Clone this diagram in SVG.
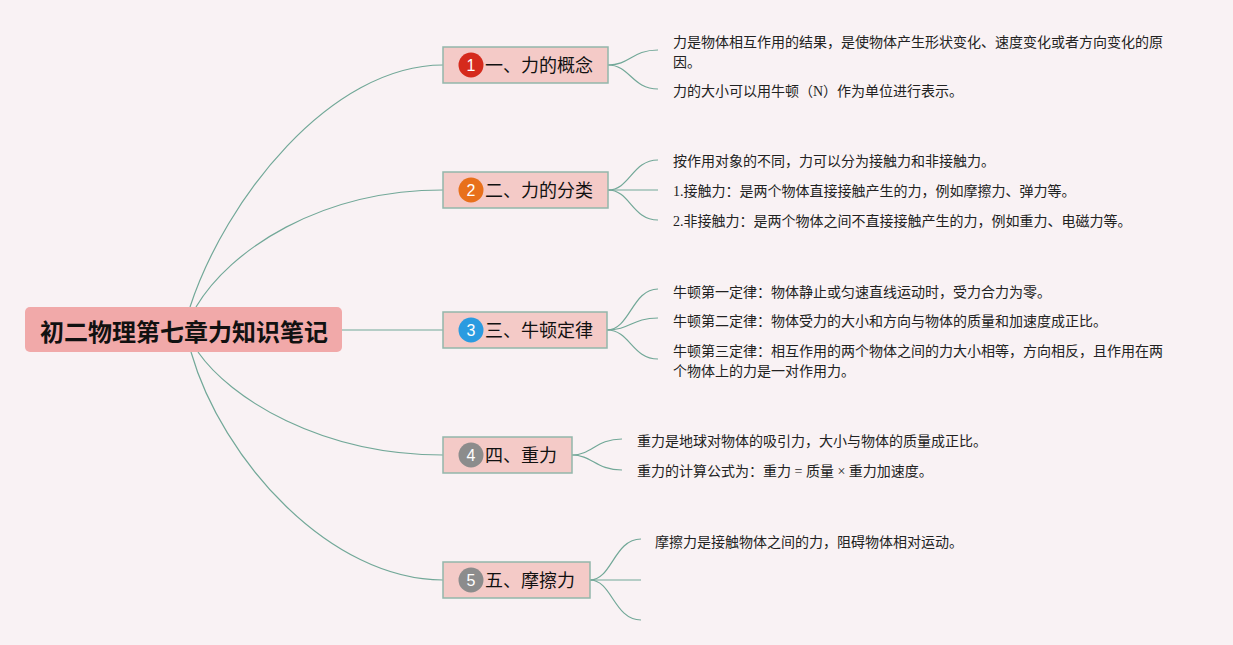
<svg xmlns="http://www.w3.org/2000/svg" width="1233" height="645" viewBox="0 0 1233 645">
<style>
.bg{fill:#f9f2f4}
.conn path,.conn line{fill:none;stroke:#72a898;stroke-width:1.2}
.root rect{fill:#f1a9a9}
.root text{font-family:"Noto Sans CJK SC","Noto Sans",sans-serif;font-weight:bold;font-size:24px;fill:#111;text-anchor:middle}
.topic rect{fill:#f4cac7;stroke:#93b7aa;stroke-width:1.5}
.topic text.t{font-family:"Noto Sans CJK SC","Noto Sans",sans-serif;font-size:18px;fill:#111}
.topic text.n{font-family:"Liberation Sans","Noto Sans",sans-serif;font-size:16px;fill:#fff;text-anchor:middle}
.leaf{font-family:"Liberation Serif","Noto Sans CJK SC",serif;font-size:14px;fill:#222}
</style>
<rect class="bg" x="0" y="0" width="1233" height="645"/>
<g id="connectors" class="conn">
<path d="M190,307 C225,200 330,65 443,65"/>
<path d="M196,307 C230,250 320,190 443,190"/>
<line x1="342" y1="330" x2="443" y2="330"/>
<path d="M198,352 C230,398 320,455 443,455"/>
<path d="M191,352 C222,460 330,580 443,580"/>
<path d="M608,65 C630,65 632,50 658,50"/>
<path d="M608,65 C630,65 632,89 658,89"/>
<path d="M608,190 C630,190 632,160 658,160"/>
<path d="M608,190 L658,190"/>
<path d="M608,190 C630,190 632,220 658,220"/>
<path d="M607,330 C630,330 632,289 658,289"/>
<path d="M607,330 C630,330 632,318 658,318"/>
<path d="M607,330 C630,330 632,359 658,359"/>
<path d="M572,455 C592,455 596,439 622,439"/>
<path d="M572,455 C592,455 596,470 622,470"/>
<path d="M590,580 C612,580 614,539 641,539"/>
<path d="M590,580 L641,580"/>
<path d="M590,580 C612,580 614,620 641,620"/>
</g>
<g id="root" class="root">
<rect x="25" y="307" width="317" height="45" rx="5"/>
<text x="184" y="340.5">初二物理第七章力知识笔记</text>
</g>
<g id="topic1" class="topic">
<rect x="443" y="47" width="165" height="36"/>
<circle cx="471" cy="65" r="12.5" fill="#d52a1c"/>
<text class="n" x="471" y="70.5">1</text>
<text class="t" x="485" y="71.5">一、力的概念</text>
</g>
<g id="topic2" class="topic">
<rect x="443" y="172" width="165" height="36"/>
<circle cx="471" cy="190" r="12.5" fill="#e8701b"/>
<text class="n" x="471" y="195.5">2</text>
<text class="t" x="485" y="196.5">二、力的分类</text>
</g>
<g id="topic3" class="topic">
<rect x="443" y="312" width="164" height="36"/>
<circle cx="471" cy="330" r="12.5" fill="#2b9be0"/>
<text class="n" x="471" y="335.5">3</text>
<text class="t" x="485" y="336.5">三、牛顿定律</text>
</g>
<g id="topic4" class="topic">
<rect x="443" y="437" width="129" height="36"/>
<circle cx="471" cy="455" r="12.5" fill="#8c8c8c"/>
<text class="n" x="471" y="460.5">4</text>
<text class="t" x="485" y="461.5">四、重力</text>
</g>
<g id="topic5" class="topic">
<rect x="443" y="562" width="147" height="36"/>
<circle cx="471" cy="580" r="12.5" fill="#8c8c8c"/>
<text class="n" x="471" y="585.5">5</text>
<text class="t" x="485" y="586.5">五、摩擦力</text>
</g>
<g id="leaves1">
<text class="leaf" x="673" y="47">力是物体相互作用的结果，是使物体产生形状变化、速度变化或者方向变化的原</text>
<text class="leaf" x="673" y="67">因。</text>
<text class="leaf" x="673" y="96">力的大小可以用牛顿（N）作为单位进行表示。</text>
</g>
<g id="leaves2">
<text class="leaf" x="673" y="166">按作用对象的不同，力可以分为接触力和非接触力。</text>
<text class="leaf" x="673" y="196">1.接触力：是两个物体直接接触产生的力，例如摩擦力、弹力等。</text>
<text class="leaf" x="673" y="226">2.非接触力：是两个物体之间不直接接触产生的力，例如重力、电磁力等。</text>
</g>
<g id="leaves3">
<text class="leaf" x="673" y="297">牛顿第一定律：物体静止或匀速直线运动时，受力合力为零。</text>
<text class="leaf" x="673" y="326">牛顿第二定律：物体受力的大小和方向与物体的质量和加速度成正比。</text>
<text class="leaf" x="673" y="356">牛顿第三定律：相互作用的两个物体之间的力大小相等，方向相反，且作用在两</text>
<text class="leaf" x="673" y="376">个物体上的力是一对作用力。</text>
</g>
<g id="leaves4">
<text class="leaf" x="637" y="446">重力是地球对物体的吸引力，大小与物体的质量成正比。</text>
<text class="leaf" x="637" y="476">重力的计算公式为：重力 = 质量 × 重力加速度。</text>
</g>
<g id="leaves5">
<text class="leaf" x="655" y="547">摩擦力是接触物体之间的力，阻碍物体相对运动。</text>
</g>
</svg>
